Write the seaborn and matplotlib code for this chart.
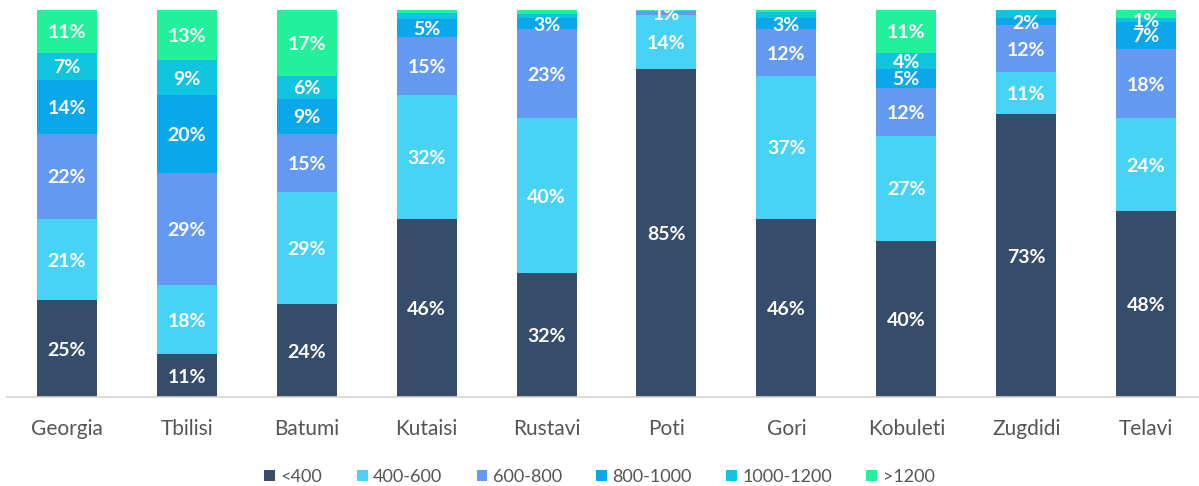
import numpy as np
import matplotlib
matplotlib.use("Agg")
import matplotlib.pyplot as plt
import seaborn as sns

# Share of households by monthly income band (GEL), per city
cities = ["Georgia", "Tbilisi", "Batumi", "Kutaisi", "Rustavi",
          "Poti", "Gori", "Kobuleti", "Zugdidi", "Telavi"]
bands = ["<400", "400-600", "600-800", "800-1000", "1000-1200", ">1200"]

lt400     = [25, 11, 24, 46, 32, 84.7, 46, 40.3, 73, 48]
b400_600  = [21, 18, 29, 32, 40, 14.0, 37, 27.2, 11, 24]
b600_800  = [22, 29, 15, 15, 23, 1.0, 12, 12.3, 12, 18]
b800_1000 = [14, 20, 9, 4.6, 3, 0.0, 3, 5.0, 2, 7]
b1000_1200 = [7, 9, 6, 1.6, 1, 0.0, 1.4, 4.1, 2, 1]
gt1200    = [11, 13, 17, 0.8, 1, 0.3, 0.6, 11.1, 0, 2]

series = [lt400, b400_600, b600_800, b800_1000, b1000_1200, gt1200]
colors = ["#364c6b", "#47d3f6", "#6399f1", "#0aa8ea", "#10c3df", "#22f09b"]

# segments that carry no value label (too thin)
unlabeled = {
    ("Kutaisi", "1000-1200"), ("Kutaisi", ">1200"),
    ("Rustavi", "1000-1200"), ("Rustavi", ">1200"),
    ("Poti", ">1200"),
    ("Gori", "1000-1200"), ("Gori", ">1200"),
    ("Zugdidi", "1000-1200"),
    ("Telavi", ">1200"),
}

sns.set_theme(style="white")
plt.rcParams["font.family"] = ["Lato", "DejaVu Sans"]

fig = plt.figure(figsize=(11.99, 4.86), dpi=100)
ax = fig.add_axes([7 / 1199, 89 / 486, 1199 / 1199, 387 / 486])

bottom = np.zeros(len(cities))
containers = []
for band, vals, col in zip(bands, series, colors):
    vals = np.asarray(vals, dtype=float)
    n_before = len(ax.containers)
    sns.barplot(x=cities, y=vals, bottom=bottom, color=col, width=0.5,
                order=cities, saturation=1, linewidth=0, ax=ax, label=band)
    cont = ax.containers[n_before]
    containers.append(cont)
    for city, v, rect in zip(cities, vals, cont):
        if v <= 0 or (city, band) in unlabeled:
            continue
        cx = rect.get_x() + rect.get_width() / 2
        cy = rect.get_y() + rect.get_height() / 2
        ax.text(cx, cy, f"{v:.0f}%", ha="center", va="center_baseline",
                color="white", fontsize=14, fontweight="bold")
    bottom = bottom + vals

ax.set_xlim(-0.5, len(cities) - 0.5)
ax.set_ylim(0, 100)
ax.set_yticks([])
ax.set_xlabel("")
ax.set_ylabel("")
for s in ["top", "right", "left"]:
    ax.spines[s].set_visible(False)
ax.spines["bottom"].set_color("#d4d4d4")
ax.spines["bottom"].set_linewidth(1.2)
ax.tick_params(axis="x", length=0, pad=16, labelsize=15, labelcolor="#555555")

leg_handles = [c.patches[0] for c in containers]
if ax.get_legend() is not None:
    ax.get_legend().remove()
fig.legend(leg_handles, bands, loc="center", bbox_to_anchor=(0.5, 9 / 486),
           ncol=6, frameon=False, fontsize=13, handlelength=0.6,
           handleheight=0.6, handletextpad=0.3, columnspacing=1.9,
           labelcolor="#555555")

fig.savefig("out.png", dpi=100, facecolor="white")
